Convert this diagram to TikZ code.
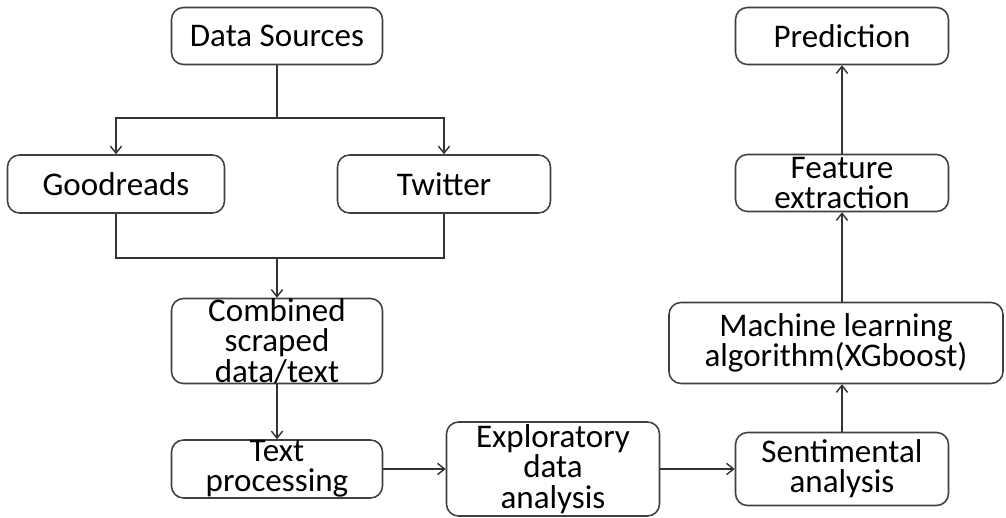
\documentclass[tikz,border=0pt]{standalone}
\usepackage{fontspec}
\setmainfont{Carlito}
\usetikzlibrary{arrows.meta}
\begin{document}
\begin{tikzpicture}[x=0.025cm,y=-0.025cm,
 box/.style={draw=black!75, line width=1.1pt, rounded corners=0.3cm, align=center, inner sep=0pt, fill=white,
   font=\fontsize{23.5}{21.5}\selectfont},
 arr/.style={draw=black!80, line width=1pt, -{Straight Barb[length=5pt,width=8pt]}},
 ln/.style={draw=black!80, line width=1pt}]
\useasboundingbox[fill=white] (0,0) rectangle (1006,518);
\node[box, minimum width=211*0.025cm, minimum height=57*0.025cm] (ds) at (277,36) {Data Sources};
\node[box, minimum width=217*0.025cm, minimum height=58*0.025cm] (gr) at (116,184) {Goodreads};
\node[box, minimum width=213*0.025cm, minimum height=58*0.025cm] (tw) at (444,184) {Twitter};
\node[box, minimum width=211*0.025cm, minimum height=85*0.025cm] (cb) at (277,341) {Combined\\scraped\\data/text};
\node[box, minimum width=211*0.025cm, minimum height=58*0.025cm] (tp) at (277,469) {Text\\processing};
\node[box, minimum width=213*0.025cm, minimum height=94*0.025cm] (ex) at (553,469) {Exploratory\\data\\analysis};
\node[box, minimum width=213*0.025cm, minimum height=73*0.025cm] (se) at (842,469) {Sentimental\\analysis};
\node[box, minimum width=334*0.025cm, minimum height=81*0.025cm] (ml) at (836,343) {Machine learning\\algorithm(XGboost)};
\node[box, minimum width=213*0.025cm, minimum height=57*0.025cm] (fe) at (842,183) {Feature\\extraction};
\node[box, minimum width=213*0.025cm, minimum height=57*0.025cm] (pr) at (842,36) {Prediction};
\coordinate (s1) at (277,118);
\coordinate (m1) at (277,258);
\draw[ln] (ds) -- (s1);
\draw[arr] (s1) -| (gr.north);
\draw[arr] (s1) -| (tw.north);
\draw[ln] (gr.south) |- (m1);
\draw[ln] (tw.south) |- (m1);
\draw[arr] (m1) -- (cb.north);
\draw[arr] (cb) -- (tp);
\draw[arr] (tp) -- (ex);
\draw[arr] (ex) -- (se);
\draw[arr] (se.north) -- (se.north |- ml.south);
\draw[arr] (ml.north -| fe.south) -- (fe.south);
\draw[arr] (fe) -- (pr);
\end{tikzpicture}
\end{document}
